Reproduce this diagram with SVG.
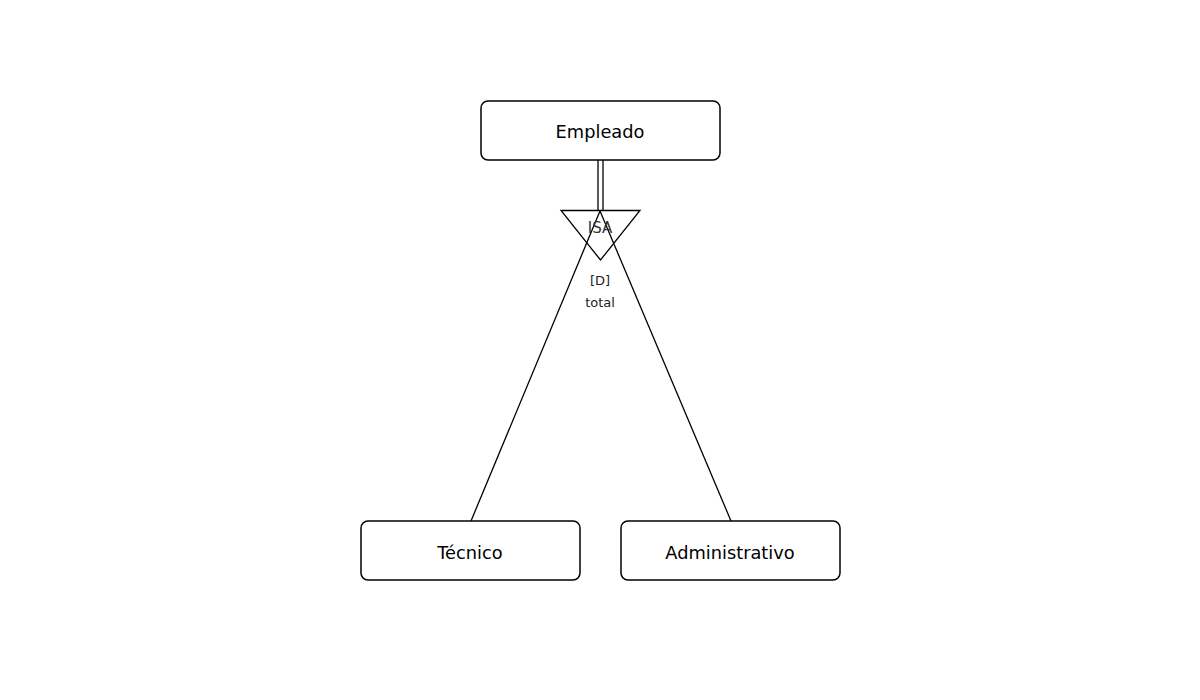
<svg xmlns="http://www.w3.org/2000/svg" width="1200" height="700" viewBox="0 0 1200 700">
<style>
.box{fill:#fff;stroke:#000;stroke-width:1.5}
.lbl{font-family:"DejaVu Sans",sans-serif;font-size:17.8px;fill:#000;text-anchor:middle}
.ln{stroke:#000;stroke-width:1.3;fill:none}
.sm{font-family:"DejaVu Sans",sans-serif;font-size:13px;fill:#222;text-anchor:middle}
</style>
<rect width="1200" height="700" fill="#fff"/>
<g id="connectors">
<line class="ln" x1="598" y1="160" x2="598" y2="211"/>
<line class="ln" x1="603" y1="160" x2="603" y2="211"/>
<line class="ln" x1="600" y1="211" x2="471" y2="521"/>
<line class="ln" x1="600" y1="211" x2="731" y2="521"/>
</g>
<g id="isa">
<polygon class="ln" points="561,210.5 640,210.5 600.5,260"/>
<text class="sm" x="600" y="233" style="font-size:15px;fill:#333">ISA</text>
<text class="sm" x="600" y="285">[D]</text>
<text class="sm" x="600" y="307">total</text>
</g>
<g id="empleado">
<rect class="box" x="481" y="101" width="239" height="59" rx="7"/>
<text class="lbl" x="600" y="138">Empleado</text>
</g>
<g id="tecnico">
<rect class="box" x="361" y="521" width="219" height="59" rx="7"/>
<text class="lbl" x="470" y="559">Técnico</text>
</g>
<g id="administrativo">
<rect class="box" x="621" y="521" width="219" height="59" rx="7"/>
<text class="lbl" x="730" y="559">Administrativo</text>
</g>
</svg>
